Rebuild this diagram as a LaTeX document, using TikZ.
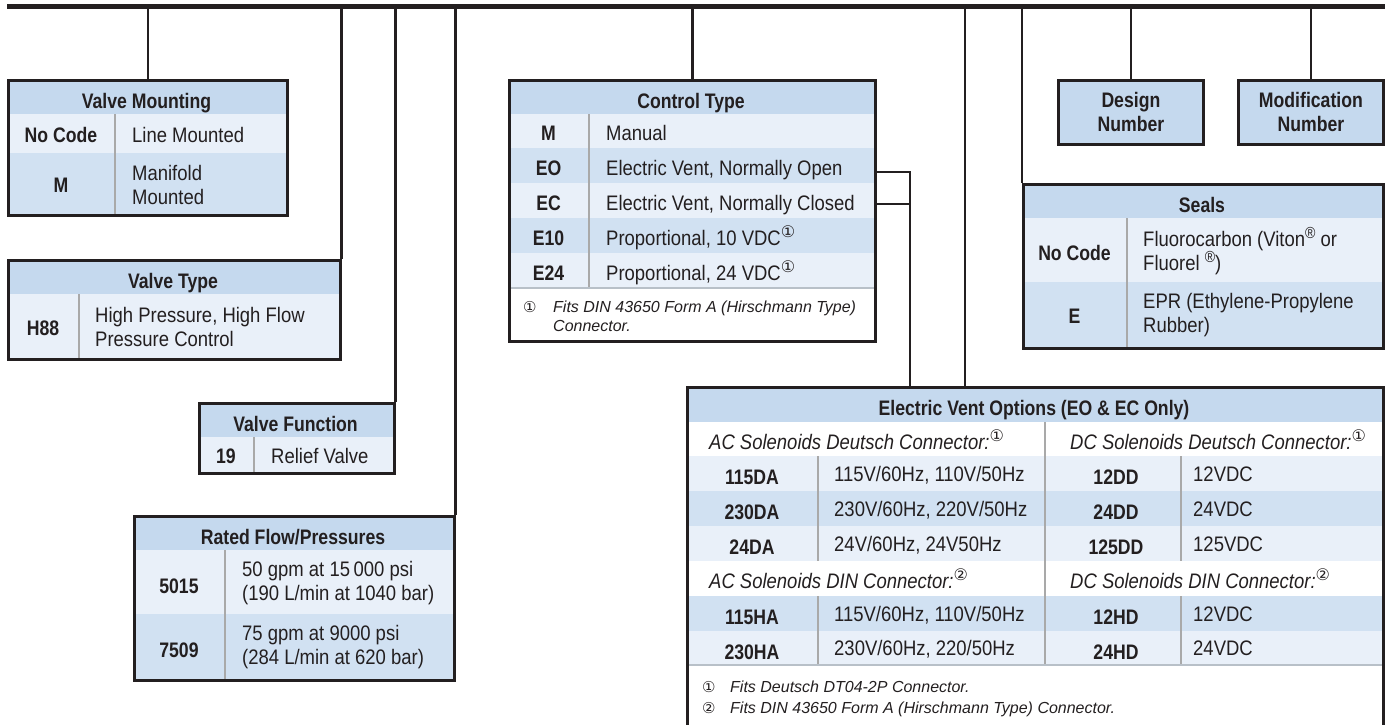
\documentclass[tikz,border=0pt]{standalone}
\usepackage{fontspec}
\setmainfont{Liberation Sans}[FakeStretch=0.88]
\newfontfamily\hbf{Liberation Sans}[FakeStretch=0.84]
\newfontfamily\fnf{Liberation Sans}
\newfontfamily\symf{DejaVu Sans}
\definecolor{hd}{HTML}{C5D9EE}
\definecolor{md}{HTML}{D1E1F2}
\definecolor{lt}{HTML}{E9F0F9}
\definecolor{ink}{HTML}{231F20}
\definecolor{gl}{HTML}{A9A9A9}
\definecolor{sepc}{HTML}{B8C0C8}
\newcommand\csup[1]{\raisebox{0.36em}{\symf\fontsize{16}{16}\selectfont #1}}
\newcommand\rsup{\raisebox{0.36em}{\fontsize{16}{16}\selectfont ®}}
\tikzset{
  boxo/.style={draw=ink, line width=2.8pt, inner sep=0pt, anchor=north west},
  conn/.style={draw=ink, line width=2.8pt},
  hdr/.style={font=\hbf\bfseries\fontsize{21}{24}\selectfont, text=ink, inner sep=0pt, anchor=base},
  code/.style={font=\hbf\bfseries\fontsize{21}{24}\selectfont, text=ink, inner sep=0pt, anchor=base},
  desc/.style={font=\fontsize{21}{24}\selectfont, text=ink, inner sep=0pt, anchor=base west},
  desctwo/.style={font=\fontsize{21}{24}\selectfont, text=ink, inner sep=0pt, anchor=west, align=left},
  subh/.style={font=\itshape\fontsize{21}{24}\selectfont, text=ink, inner sep=0pt, anchor=base west},
  foot/.style={font=\fnf\itshape\fontsize{16}{19}\selectfont, text=ink, inner sep=0pt, anchor=base west},
  fmark/.style={font=\symf\fontsize{15}{15}\selectfont, text=ink, inner sep=0pt, anchor=base west},
  divl/.style={draw=gl, line width=1.8pt},
  sepl/.style={draw=sepc, line width=1.8pt},
  nbox/.style={boxo, fill=hd, align=center, text=ink, font=\hbf\bfseries\fontsize{21}{24}\selectfont},
}
\begin{document}
\begin{tikzpicture}[x=1pt,y=-1pt]
\useasboundingbox (0,0) rectangle (1385,725);
\clip (0,0) rectangle (1385,725);

% ---------- fills ----------
% Valve Mounting
\fill[hd] (7,79) rectangle (286,114);
\fill[lt] (7,114) rectangle (286,153);
\fill[md] (7,153) rectangle (286,214);
\draw[divl] (115,114) -- (115,214);
% Valve Type
\fill[hd] (7,259) rectangle (339,294);
\fill[lt] (7,294) rectangle (339,358);
\draw[divl] (79,294) -- (79,358);
% Valve Function
\fill[hd] (198,402) rectangle (393,437);
\fill[lt] (198,437) rectangle (393,472);
\draw[divl] (254,437) -- (254,472);
% Rated Flow
\fill[hd] (133,515) rectangle (453,550);
\fill[lt] (133,550) rectangle (453,614);
\fill[md] (133,614) rectangle (453,679);
\draw[divl] (225,550) -- (225,679);
% Control Type
\fill[white] (508,79) rectangle (874,340);
\fill[hd] (508,79) rectangle (874,114);
\fill[lt] (508,114) rectangle (874,148);
\fill[md] (508,148) rectangle (874,183);
\fill[lt] (508,183) rectangle (874,218);
\fill[md] (508,218) rectangle (874,253);
\fill[lt] (508,253) rectangle (874,288);
\draw[divl] (589,114) -- (589,288);
\draw[sepl] (508,288) -- (874,288);
% Seals
\fill[hd] (1022,183) rectangle (1382,218);
\fill[lt] (1022,218) rectangle (1382,282);
\fill[md] (1022,282) rectangle (1382,347);
\draw[divl] (1127,218) -- (1127,347);
% Electric Vent Options
\fill[hd] (686,386) rectangle (1382,422);
\fill[lt] (686,456) rectangle (1382,491);
\fill[md] (686,491) rectangle (1382,526);
\fill[lt] (686,526) rectangle (1382,561);
\fill[md] (686,596) rectangle (1382,631);
\fill[lt] (686,631) rectangle (1382,665);
\draw[divl] (1045,422) -- (1045,665);
\draw[divl] (818,456) -- (818,561);
\draw[divl] (818,596) -- (818,665);
\draw[divl] (1181,456) -- (1181,561);
\draw[divl] (1181,596) -- (1181,665);
\draw[sepl] (686,665) -- (1382,665);

% ---------- top bar ----------
\node[fill=ink, inner sep=0pt, minimum width=1378pt, minimum height=5.5pt, anchor=north west] (bar) at (7,3.8) {};

% ---------- box outlines ----------
\node[boxo, minimum width=279pt, minimum height=135pt] (vm) at (7,79) {};
\node[boxo, minimum width=332pt, minimum height=99pt] (vt) at (7,259) {};
\node[boxo, minimum width=195pt, minimum height=70pt] (vf) at (198,402) {};
\node[boxo, minimum width=320pt, minimum height=164pt] (rf) at (133,515) {};
\node[boxo, minimum width=366pt, minimum height=261pt] (ct) at (508,79) {};
\node[nbox, minimum width=145pt, minimum height=64pt] (dn) at (1057,79) {Design\\Number};
\node[nbox, minimum width=145pt, minimum height=64pt] (mn) at (1237,79) {Modification\\Number};
\node[boxo, minimum width=360pt, minimum height=164pt] (se) at (1022,183) {};
\node[boxo, minimum width=696pt, minimum height=370pt] (ev) at (686,386) {};

% ---------- connectors ----------
\coordinate (evin) at (965,386);
\coordinate (eo) at (874,172);
\coordinate (ec) at (874,204);
\coordinate (evj) at (910,386);
\draw[conn] (bar.center -| vm.north) -- (vm.north);
\draw[conn] (bar.center -| vt.north east) -- (vt.north east);
\draw[conn] (bar.center -| vf.north east) -- (vf.north east);
\draw[conn] (bar.center -| rf.north east) -- (rf.north east);
\draw[conn] (bar.center -| ct.north) -- (ct.north);
\draw[conn] (bar.center -| evin) -- (evin);
\draw[conn] (bar.center -| se.north west) -- (se.north west);
\draw[conn] (bar.center -| dn.north) -- (dn.north);
\draw[conn] (bar.center -| mn.north) -- (mn.north);
\draw[conn] (eo) -| (evj);
\draw[conn] (ec) -- (ec -| evj);

% ---------- Valve Mounting text ----------
\node[hdr] (vmh) at (146.5,108.5) {Valve Mounting};
\node[code] (vm1c) at (61,142.5) {No Code};
\node[desc] (vm1d) at (132,142.5) {Line Mounted};
\node[code] (vm2c) at (61,192.5) {M};
\node[desctwo] (vm2d) at (132,184.5) {Manifold\\Mounted};

% ---------- Valve Type text ----------
\node[hdr] (vth) at (173,288.5) {Valve Type};
\node[code] (vtc) at (43,335.5) {H88};
\node[desctwo] (vtd) at (95,327) {High Pressure, High Flow\\Pressure Control};

% ---------- Valve Function text ----------
\node[hdr] (vfh) at (295.5,431.5) {Valve Function};
\node[code] (vfc) at (226,463.5) {19};
\node[desc] (vfd) at (271,463.5) {Relief Valve};

% ---------- Rated Flow text ----------
\node[hdr] (rfh) at (293,544.5) {Rated Flow/Pressures};
\node[code] (rf1c) at (179,593.5) {5015};
\node[desctwo] (rf1d) at (242,583) {50 gpm at 15\,000 psi\\(190 L/min at 1040 bar)};
\node[code] (rf2c) at (179,657.5) {7509};
\node[desctwo] (rf2d) at (242,647.5) {75 gpm at 9000 psi\\(284 L/min at 620 bar)};

% ---------- Control Type text ----------
\node[hdr] (cth) at (691,108.5) {Control Type};
\node[code] (ct1c) at (548.5,140) {M};
\node[desc] (ct1d) at (606,140) {Manual};
\node[code] (ct2c) at (548.5,175) {EO};
\node[desc] (ct2d) at (606,175) {Electric Vent, Normally Open};
\node[code] (ct3c) at (548.5,210) {EC};
\node[desc] (ct3d) at (606,210) {Electric Vent, Normally Closed};
\node[code] (ct4c) at (548.5,245) {E10};
\node[desc] (ct4d) at (606,245) {Proportional, 10 VDC\csup{①}};
\node[code] (ct5c) at (548.5,280) {E24};
\node[desc] (ct5d) at (606,280) {Proportional, 24 VDC\csup{①}};
\node[fmark] (ctfm) at (523,312) {①};
\node[foot] (ctf1) at (553,312) {Fits DIN 43650 Form A (Hirschmann Type)};
\node[foot] (ctf2) at (553,331) {Connector.};

% ---------- Seals text ----------
\node[hdr] (seh) at (1202,212) {Seals};
\node[code] (se1c) at (1074.5,260.5) {No Code};
\node[desctwo] (se1d) at (1143,251) {Fluorocarbon (Viton\rsup{} or\\Fluorel \rsup)};
\node[code] (se2c) at (1074.5,323.5) {E};
\node[desctwo] (se2d) at (1143,315) {EPR (Ethylene-Propylene\\Rubber)};

% ---------- Electric Vent text ----------
\node[hdr] (evh) at (1034,415) {Electric Vent Options (EO \& EC Only)};
\node[subh] (evs1) at (709,449) {AC Solenoids Deutsch Connector:\csup{①}};
\node[subh] (evs2) at (1070,449) {DC Solenoids Deutsch Connector:\csup{①}};
\node[subh] (evs3) at (709,588) {AC Solenoids DIN Connector:\csup{②}};
\node[subh] (evs4) at (1070,588) {DC Solenoids DIN Connector:\csup{②}};

\node[code] (a1c) at (752,484.5) {115DA};
\node[desc] (a1d) at (834,481) {115V/60Hz, 110V/50Hz};
\node[code] (a2c) at (752,519.5) {230DA};
\node[desc] (a2d) at (834,516) {230V/60Hz, 220V/50Hz};
\node[code] (a3c) at (752,554.5) {24DA};
\node[desc] (a3d) at (834,551) {24V/60Hz, 24V50Hz};
\node[code] (a4c) at (752,624.5) {115HA};
\node[desc] (a4d) at (834,621) {115V/60Hz, 110V/50Hz};
\node[code] (a5c) at (752,659) {230HA};
\node[desc] (a5d) at (834,655.5) {230V/60Hz, 220/50Hz};

\node[code] (b1c) at (1116,484.5) {12DD};
\node[desc] (b1d) at (1193,481) {12VDC};
\node[code] (b2c) at (1116,519.5) {24DD};
\node[desc] (b2d) at (1193,516) {24VDC};
\node[code] (b3c) at (1116,554.5) {125DD};
\node[desc] (b3d) at (1193,551) {125VDC};
\node[code] (b4c) at (1116,624.5) {12HD};
\node[desc] (b4d) at (1193,621) {12VDC};
\node[code] (b5c) at (1116,659) {24HD};
\node[desc] (b5d) at (1193,655.5) {24VDC};

\node[fmark] (evfm1) at (702,692) {①};
\node[foot] (evf1) at (730,692) {Fits Deutsch DT04-2P Connector.};
\node[fmark] (evfm2) at (702,713) {②};
\node[foot] (evf2) at (730,713) {Fits DIN 43650 Form A (Hirschmann Type) Connector.};
\end{tikzpicture}
\end{document}
